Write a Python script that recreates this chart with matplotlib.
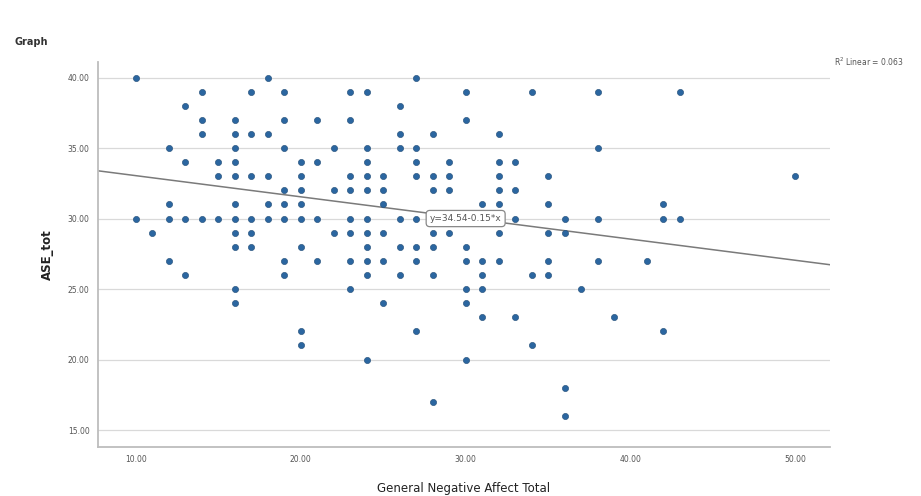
import matplotlib
matplotlib.use("Agg")
import matplotlib.pyplot as plt
import numpy as np

# ASE_tot value -> General Negative Affect Total values
rows = {
    40: [10, 18, 27],
    39: [14, 17, 19, 23, 24, 30, 34, 38, 43],
    38: [13, 26],
    37: [14, 16, 19, 21, 23, 30],
    36: [14, 16, 17, 18, 26, 28, 32],
    35: [12, 16, 19, 22, 24, 26, 27, 38],
    34: [13, 15, 16, 20, 21, 24, 27, 29, 32, 33],
    33: [15, 16, 17, 18, 20, 23, 24, 25, 27, 28, 29, 32, 35, 50],
    32: [19, 20, 22, 23, 24, 25, 28, 29, 32, 33],
    31: [12, 16, 18, 19, 20, 25, 31, 32, 35, 42],
    30: [10, 12, 13, 14, 15, 16, 17, 18, 19, 20, 21, 23, 24, 26, 27, 33, 36, 38, 42, 43],
    29: [11, 16, 17, 22, 23, 24, 25, 28, 29, 32, 35, 36],
    28: [16, 17, 20, 24, 26, 27, 28, 30],
    27: [12, 19, 21, 23, 24, 25, 27, 30, 31, 32, 35, 38, 41],
    26: [13, 19, 24, 26, 28, 31, 34, 35],
    25: [16, 23, 30, 31, 37],
    24: [16, 25, 30],
    23: [31, 33, 39],
    22: [20, 27, 42],
    21: [20, 34],
    20: [24, 30],
    18: [36],
    17: [28],
    16: [36],
}
intercept = 34.54
slope = -0.15
r2_text = "R$^2$ Linear = 0.063"
eq_text = "y=34.54-0.15*x"

x = []
y = []
for yv, xs in rows.items():
    for xv in xs:
        x.append(xv)
        y.append(yv)

fig = plt.figure(figsize=(9.21, 4.96), dpi=100)
ax = fig.add_axes([0.1064, 0.0988, 0.7948, 0.7762])

xlim = (7.7, 52.1)
ylim = (13.8, 41.1)
ax.set_xlim(*xlim)
ax.set_ylim(*ylim)

ax.set_yticks([15, 20, 25, 30, 35, 40])
ax.set_xticks([10, 20, 30, 40, 50])
ax.set_yticklabels(["%.2f" % v for v in ax.get_yticks()])
ax.set_xticklabels(["%.2f" % v for v in ax.get_xticks()])
ax.tick_params(labelsize=5.5, colors="#555555", length=0, pad=6)
ax.grid(axis="y", color="#d9d9d9", linewidth=0.9)
ax.set_axisbelow(True)

for s in ["top", "right"]:
    ax.spines[s].set_visible(False)
for s in ["left", "bottom"]:
    ax.spines[s].set_color("#bdbdbd")
    ax.spines[s].set_linewidth(1.3)

ax.scatter(x, y, s=20, color="#2b66a0", edgecolors="#1f4a75", linewidths=0.4, zorder=3)

lx = np.array(xlim)
ax.plot(lx, intercept + slope * lx, color="#7a7a7a", linewidth=1.1, zorder=2)

ax.text(30.0, 30.0, eq_text, fontsize=6.5, color="#555555", ha="center", va="center", zorder=4,
        bbox=dict(boxstyle="round,pad=0.4", facecolor="white", edgecolor="#888888", linewidth=0.9))

ax.set_xlabel("General Negative Affect Total", fontsize=8.5, color="#222222", labelpad=13)
ax.set_ylabel("ASE_tot", fontsize=8.5, color="#222222", fontweight="bold", labelpad=10)

fig.text(0.905, 0.875, r2_text, fontsize=5.5, color="#555555", ha="left", va="center")
fig.text(0.016, 0.915, "Graph", fontsize=7, color="#333333", fontweight="bold", ha="left", va="center")

fig.savefig("out.png", dpi=100)
